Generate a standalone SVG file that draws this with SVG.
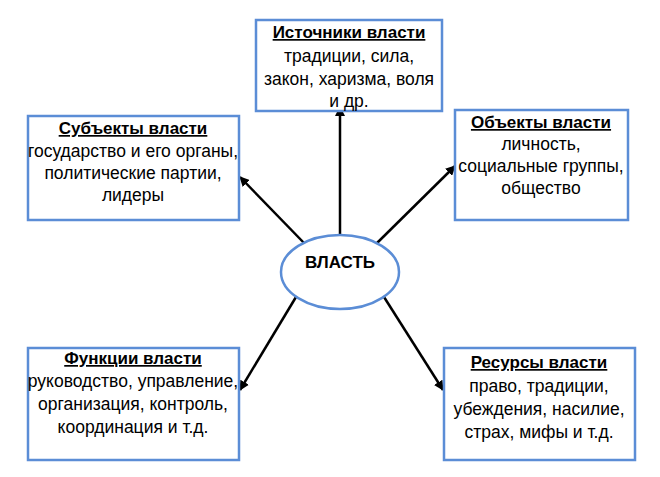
<svg xmlns="http://www.w3.org/2000/svg" width="660" height="477" viewBox="0 0 660 477">
<style>
.box{fill:#fff;stroke:#5b8dd6;stroke-width:2.5}
.t{font-family:"Liberation Sans",Arial,sans-serif;font-size:17.5px;fill:#000;text-anchor:middle}
.h{font-weight:bold;text-decoration:underline;font-size:17px}
.c{stroke:#000;stroke-width:2.5;fill:none;marker-end:url(#ah)}
</style>
<defs>
<marker id="ah" viewBox="0 0 10 10" refX="9" refY="5" markerWidth="4" markerHeight="4" orient="auto" markerUnits="strokeWidth">
<path d="M0,0 L10,5 L0,10 z" fill="#000"/>
</marker>
</defs>
<rect width="660" height="477" fill="#fff"/>
<g id="connectors">
<line class="c" x1="340" y1="236" x2="340" y2="107"/>
<line class="c" x1="305" y1="244" x2="240" y2="177"/>
<line class="c" x1="376" y1="244" x2="455" y2="166"/>
<line class="c" x1="296" y1="297" x2="240" y2="390"/>
<line class="c" x1="384" y1="297" x2="443" y2="390"/>
</g>
<g id="center">
<ellipse cx="340" cy="272" rx="59" ry="37" fill="#fff" stroke="#5b8dd6" stroke-width="2.5"/>
<text class="t" x="340" y="268" style="font-weight:bold;font-size:17px">ВЛАСТЬ</text>
</g>
<g id="sources">
<rect class="box" x="256" y="20" width="186" height="91"/>
<text class="t h" x="349" y="38">Источники власти</text>
<text class="t" x="349" y="62">традиции, сила,</text>
<text class="t" x="349" y="85">закон, харизма, воля</text>
<text class="t" x="349" y="107">и др.</text>
</g>
<g id="subjects">
<rect class="box" x="28" y="116" width="211" height="104"/>
<text class="t h" x="133" y="134">Субъекты власти</text>
<text class="t" x="133" y="157">государство и его органы,</text>
<text class="t" x="133" y="179">политические партии,</text>
<text class="t" x="133" y="201">лидеры</text>
</g>
<g id="objects">
<rect class="box" x="455" y="110" width="173" height="110"/>
<text class="t h" x="541" y="128">Объекты власти</text>
<text class="t" x="541" y="150">личность,</text>
<text class="t" x="541" y="172">социальные группы,</text>
<text class="t" x="541" y="194">общество</text>
</g>
<g id="functions">
<rect class="box" x="28" y="348" width="211" height="112"/>
<text class="t h" x="133" y="364">Функции власти</text>
<text class="t" x="133" y="387">руководство, управление,</text>
<text class="t" x="133" y="410">организация, контроль,</text>
<text class="t" x="133" y="433">координация и т.д.</text>
</g>
<g id="resources">
<rect class="box" x="444" y="348" width="191" height="112"/>
<text class="t h" x="539" y="368">Ресурсы власти</text>
<text class="t" x="539" y="392">право, традиции,</text>
<text class="t" x="539" y="415">убеждения, насилие,</text>
<text class="t" x="539" y="438">страх, мифы и т.д.</text>
</g>
</svg>
